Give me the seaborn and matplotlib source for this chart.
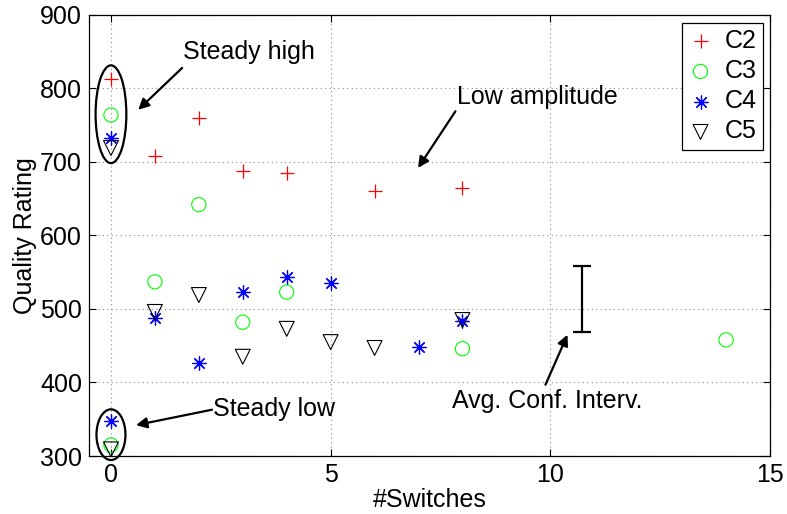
import numpy as np
import pandas as pd
import matplotlib
matplotlib.use("Agg")
import matplotlib.pyplot as plt
from matplotlib.patches import Ellipse
import seaborn as sns

# Quality rating versus number of switches, per condition
c2_x = [0, 1, 2, 3, 4, 6, 8]
c2_y = [813, 708, 760, 688, 685, 661, 664]
c3_x = [0, 0, 1, 2, 3, 4, 8, 14]
c3_y = [764, 315, 537, 642, 482, 523, 446, 458]
c4_x = [0, 0, 1, 2, 3, 4, 5, 7, 8]
c4_y = [733, 347, 488, 427, 523, 544, 535, 448, 484]
c5_x = [0, 0, 1, 2, 3, 4, 5, 6, 8]
c5_y = [719, 309, 496, 519, 435, 473, 455, 447, 485]

# Average confidence interval shown as a single bar
ci_x = 10.73
ci_center = 514
ci_half = 45

x_ticks = [0, 5, 10, 15]
y_ticks = [300, 400, 500, 600, 700, 800, 900]

sns.set_theme(style="white")
plt.rcParams["font.family"] = ["Liberation Sans", "DejaVu Sans"]
for key in ("text.color", "axes.labelcolor", "xtick.color", "ytick.color"):
    plt.rcParams[key] = "black"
FS = 18

fig = plt.figure(figsize=(7.87, 5.14), dpi=100)
ax = fig.add_axes([89 / 787, 58 / 514, 681 / 787, 441 / 514])

series = [
    ("C2", c2_x, c2_y, "+", "#ff0000", 95),
    ("C3", c3_x, c3_y, "o", "#00ff00", 105),
    ("C4", c4_x, c4_y, (8, 2, 0), "#0000ff", 90),
    ("C5", c5_x, c5_y, "v", "black", 115),
]
for name, xs, ys, mk, col, size in series:
    df = pd.DataFrame({"x": xs, "y": ys})
    filled = mk in ("o", "v")
    if filled:
        sns.scatterplot(data=df, x="x", y="y", marker=mk, s=size, ax=ax,
                        facecolor="none", edgecolor=col, linewidth=0.8,
                        label=name, zorder=3)
    else:
        sns.scatterplot(data=df, x="x", y="y", marker=mk, s=size, ax=ax,
                        color=col, linewidth=0.9, label=name, zorder=3)

ax.errorbar([ci_x], [ci_center], yerr=[ci_half], fmt="none", ecolor="black",
            elinewidth=1.6, capsize=6.5, capthick=1.6, zorder=3)

ax.set_xlim(-0.5, 15)
ax.set_ylim(300, 900)
ax.set_xticks(x_ticks)
ax.set_yticks(y_ticks)
ax.set_xticklabels([str(v) for v in x_ticks], fontsize=FS)
ax.set_yticklabels([str(v) for v in y_ticks], fontsize=FS)
ax.set_xlabel("#Switches", fontsize=FS, labelpad=1)
ax.set_ylabel("Quality Rating", fontsize=FS, labelpad=2)

ax.tick_params(direction="in", length=5, width=0.8, top=True, right=True,
               bottom=True, left=True, colors="black", pad=5)
for sp in ax.spines.values():
    sp.set_color("black")
    sp.set_linewidth(0.9)
ax.grid(True, color="#8a8a8a", linestyle=(0, (1, 3)), linewidth=0.8)
ax.set_axisbelow(True)

# Ellipses around the steady groups
ax.add_patch(Ellipse((0, 765), 0.70, 133, fill=False, edgecolor="black",
                     linewidth=1.6, zorder=4))
ax.add_patch(Ellipse((0, 329), 0.66, 69, fill=False, edgecolor="black",
                     linewidth=1.6, zorder=4, clip_on=False))

arrow = dict(arrowstyle="-|>", color="black", lw=1.6, mutation_scale=16,
             shrinkA=0, shrinkB=0)
ax.annotate("", xy=(0.62, 771), xytext=(1.62, 828), arrowprops=arrow)
ax.annotate("", xy=(0.57, 342), xytext=(2.30, 363), arrowprops=arrow)
ax.annotate("", xy=(6.99, 692), xytext=(7.84, 769), arrowprops=arrow)
ax.annotate("", xy=(10.39, 465), xytext=(9.89, 397), arrowprops=arrow)

ax.text(1.64, 850, "Steady high", fontsize=FS, ha="left", va="center")
ax.text(2.32, 364, "Steady low", fontsize=FS, ha="left", va="center")
ax.text(7.88, 788, "Low amplitude", fontsize=FS, ha="left", va="center")
ax.text(9.94, 375, "Avg. Conf. Interv.", fontsize=FS, ha="center", va="center")

leg = ax.legend(loc="upper right", fontsize=FS, frameon=True, fancybox=False,
                framealpha=1, edgecolor="black", borderpad=0.25,
                labelspacing=0.25, handlelength=1.0, handletextpad=0.45,
                borderaxespad=0.3)
leg.get_frame().set_linewidth(0.9)

fig.savefig("out.png", dpi=100)
